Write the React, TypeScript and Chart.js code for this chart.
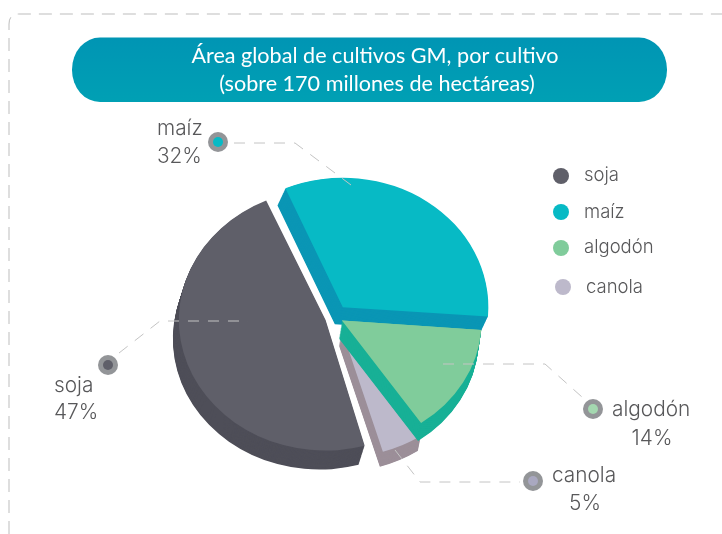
import React, { useEffect, useRef } from "react";
import { Chart, registerables } from "chart.js";

Chart.register(...registerables);

const cultivos = ["soja", "maíz", "algodón", "canola"];
const porcentajes = [47, 32, 14, 5];
const topColors = ["#5f5f69", "#07bac5", "#80cc9b", "#bdb9cb"];
const sideColors = ["#4e4e58", "#0a96b5", "#17b096", "#9c8f99"];
const dotColors = ["#5f5f69", "#07bac5", "#a4d8b0", "#a9a8c0"];
const offsets = [40, 54, 32, 64];
const radii = [138, 144, 138, 132];
const sideX = [-6, -8, -3, -3];
const sideY = [19, 17, 18, 15];
const titleLines = ["Área global de cultivos GM, por cultivo", "(sobre 170 millones de hectáreas)"];

const SQUASH = 0.89;
const CX = 335;
const CY = 317;
const LABEL_FONT = "300 20.8px Inter";
const LEGEND_FONT = "300 18.5px Inter";
const TEXT = "#58585a";

const callouts: number[][][] = [
  [[119, 353], [160, 321], [248, 321]],
  [[234, 143], [295, 143], [355, 188]],
  [[443, 364], [545, 364], [582, 397]],
  [[395, 450], [420, 482], [520, 482]],
];
const markers = [[108, 365], [218, 142], [593, 409], [533, 481]];
const labelSpots = [
  { x: 54, y: 392, px: 54, py: 419, center: false },
  { x: 157, y: 135, px: 157, py: 163, center: false },
  { x: 612, y: 416, px: 652, py: 445, center: true },
  { x: 552, y: 482, px: 585, py: 510, center: true },
];
const legendSpots = [
  { dx: 561, dy: 176, tx: 584, ty: 181 },
  { dx: 561, dy: 212, tx: 584, ty: 218 },
  { dx: 561, dy: 248, tx: 584, ty: 253 },
  { dx: 563, dy: 287, tx: 586, ty: 293 },
];

function drawCopy(ctx: CanvasRenderingContext2D, arc: any, color: string, dx: number, dy: number) {
  const copy = Object.create(arc);
  copy.options = {
    backgroundColor: color,
    borderColor: color,
    borderWidth: 0,
    offset: arc.options.offset,
    spacing: 0,
    borderAlign: "center",
    circular: true,
    borderRadius: 0,
    borderDash: [],
    borderDashOffset: 0,
  };
  ctx.save();
  ctx.translate(dx, dy);
  copy.draw(ctx);
  ctx.restore();
}

function drawSide(ctx: CanvasRenderingContext2D, arc: any, i: number) {
  const steps = 24;
  for (let s = steps; s >= 1; s--) {
    drawCopy(ctx, arc, sideColors[i], (sideX[i] * s) / steps, ((sideY[i] / SQUASH) * s) / steps);
  }
}

const depthPlugin = {
  id: "depth",
  beforeDatasetsDraw(chart: any) {
    const ctx = chart.ctx;
    const arcs = chart.getDatasetMeta(0).data;
    arcs.forEach((a: any, i: number) => {
      a.outerRadius = radii[i];
    });
    ctx.save();
    ctx.translate(CX, CY);
    ctx.scale(1, SQUASH);
    ctx.translate(-CX, -CY);
    [0, 3, 1].forEach((i) => drawSide(ctx, arcs[i], i));
  },
  afterDatasetsDraw(chart: any) {
    const ctx = chart.ctx;
    const arcs = chart.getDatasetMeta(0).data;
    drawSide(ctx, arcs[2], 2);
    drawCopy(ctx, arcs[2], topColors[2], 0, 0);
    ctx.restore();
  },
};

const decorPlugin = {
  id: "decor",
  beforeDraw(chart: any) {
    const ctx: CanvasRenderingContext2D = chart.ctx;
    ctx.save();
    ctx.fillStyle = "#ffffff";
    ctx.fillRect(0, 0, chart.width, chart.height);
    ctx.strokeStyle = "#bdbdbd";
    ctx.lineWidth = 1;
    ctx.setLineDash([13, 8]);
    ctx.beginPath();
    ctx.moveTo(9, 534);
    ctx.lineTo(9, 24);
    ctx.quadraticCurveTo(9, 14, 19, 14);
    ctx.lineTo(722, 14);
    ctx.stroke();
    ctx.setLineDash([]);

    const x0 = 72, x1 = 667, y0 = 37.5, y1 = 102, rx = 28, ry = 32;
    const grad = ctx.createLinearGradient(0, y0, 0, y1);
    grad.addColorStop(0, "#0095b4");
    grad.addColorStop(1, "#00a0b4");
    ctx.beginPath();
    ctx.moveTo(x0 + rx, y0);
    ctx.lineTo(x1 - rx, y0);
    ctx.ellipse(x1 - rx, y0 + ry, rx, ry, 0, -Math.PI / 2, 0);
    ctx.ellipse(x1 - rx, y1 - ry, rx, ry, 0, 0, Math.PI / 2);
    ctx.lineTo(x0 + rx, y1);
    ctx.ellipse(x0 + rx, y1 - ry, rx, ry, 0, Math.PI / 2, Math.PI);
    ctx.ellipse(x0 + rx, y0 + ry, rx, ry, 0, Math.PI, Math.PI * 1.5);
    ctx.closePath();
    ctx.fillStyle = grad;
    ctx.fill();

    ctx.fillStyle = "#ffffff";
    ctx.font = "21.6px Lato";
    ctx.textAlign = "center";
    ctx.textBaseline = "alphabetic";
    ctx.fillText(titleLines[0], 375, 63);
    ctx.fillText(titleLines[1], 377, 91);
    ctx.restore();
  },
  afterDraw(chart: any) {
    const ctx: CanvasRenderingContext2D = chart.ctx;
    ctx.save();
    ctx.lineWidth = 1;
    ctx.setLineDash([11, 9]);
    ctx.strokeStyle = "#c4c4c4";
    callouts.forEach((pts) => {
      ctx.beginPath();
      pts.forEach(([x, y], i) => (i ? ctx.lineTo(x, y) : ctx.moveTo(x, y)));
      ctx.stroke();
    });
    ctx.setLineDash([]);

    markers.forEach(([x, y], i) => {
      ctx.beginPath();
      ctx.arc(x, y, 10, 0, Math.PI * 2);
      ctx.fillStyle = "#939598";
      ctx.fill();
      ctx.beginPath();
      ctx.arc(x, y, 5, 0, Math.PI * 2);
      ctx.fillStyle = dotColors[i];
      ctx.fill();
    });

    ctx.fillStyle = TEXT;
    ctx.textBaseline = "alphabetic";
    ctx.font = LABEL_FONT;
    labelSpots.forEach((s, i) => {
      ctx.textAlign = "left";
      ctx.fillText(cultivos[i], s.x, s.y);
      ctx.textAlign = s.center ? "center" : "left";
      ctx.fillText(porcentajes[i] + "%", s.px, s.py);
    });

    ctx.font = LEGEND_FONT;
    ctx.textAlign = "left";
    legendSpots.forEach((s, i) => {
      ctx.beginPath();
      ctx.arc(s.dx, s.dy, 8, 0, Math.PI * 2);
      ctx.fillStyle = topColors[i];
      ctx.fill();
      ctx.fillStyle = TEXT;
      ctx.fillText(cultivos[i], s.tx, s.ty);
    });
    ctx.restore();
  },
};

export default function App() {
  const ref = useRef<HTMLCanvasElement | null>(null);
  useEffect(() => {
    const chart = new Chart(ref.current as HTMLCanvasElement, {
      type: "pie",
      data: {
        labels: cultivos,
        datasets: [
          {
            data: porcentajes,
            backgroundColor: topColors,
            borderWidth: 0,
            offset: offsets,
          },
        ],
      },
      options: {
        responsive: false,
        animation: false,
        devicePixelRatio: 1,
        rotation: 164,
        radius: 146,
        layout: { padding: { left: 0, right: 722 - 2 * CX, top: 2 * CY - 534, bottom: 0 } },
        plugins: { legend: { display: false }, tooltip: { enabled: false }, title: { display: false } },
      },
      plugins: [decorPlugin, depthPlugin],
    } as any);
    return () => chart.destroy();
  }, []);
  return (
    <canvas
      ref={ref}
      width={722}
      height={534}
      style={{ position: "absolute", left: 0, top: 0, width: 722, height: 534, display: "block" }}
    />
  );
}
